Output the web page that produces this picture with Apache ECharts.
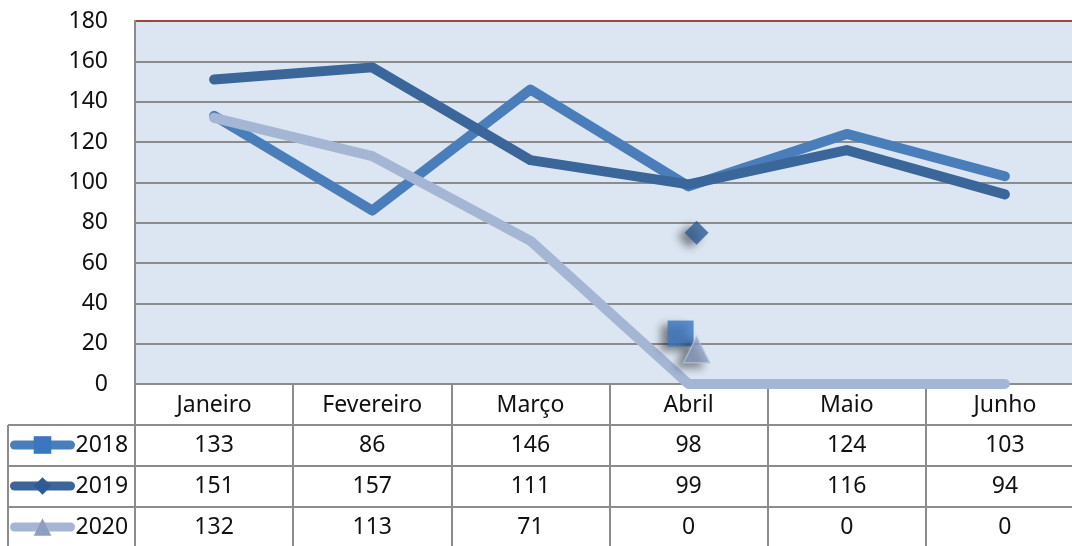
<!DOCTYPE html>
<html>
<head>
<meta charset="utf-8">
<script src="https://cdn.jsdelivr.net/npm/echarts@6/dist/echarts.min.js"></script>
<style>
  html, body { margin: 0; padding: 0; background: #fff; }
  #chart { width: 1072px; height: 546px; }
</style>
</head>
<body>
<div id="chart"></div>
<script>
const months = ["Janeiro", "Fevereiro", "Março", "Abril", "Maio", "Junho"];
const years = ["2018", "2019", "2020"];
const values2018 = [133, 86, 146, 98, 124, 103];
const values2019 = [151, 157, 111, 99, 116, 94];
const values2020 = [132, 113, 71, 0, 0, 0];
const yTicks = [0, 20, 40, 60, 80, 100, 120, 140, 160, 180];
// stray markers that float near "Abril" in the original picture
const strayCategory = "Abril";
const strayValues = [25, 75, 17];

const colors = ["#4A7EBB", "#3A6699", "#A5B6D4"];
const markerColors = ["#3B76C0", "#2D5B94", "#8C9FC2"];
const symbols = ["rect", "diamond", "triangle"];
const gridGray = "#8C8C8C";
const font = "Noto Sans, sans-serif";
const rowH = 41;

const chart = echarts.init(document.getElementById("chart"));

const lineSeries = [values2018, values2019, values2020].map((vals, i) => ({
  name: years[i],
  type: "line",
  data: vals,
  symbol: symbols[i],
  symbolSize: 14,
  showSymbol: false,
  itemStyle: { color: markerColors[i] },
  lineStyle: { color: colors[i], width: 10, cap: "round", join: "round" },
  z: 2 + i,
  animation: false,
}));

const strayOffsets = [[-8, 0], [8, 0], [8, 0]];
const straySeries = {
  name: "stray",
  type: "scatter",
  z: 10,
  animation: false,
  data: strayValues.map((v, i) => ({
    value: [strayCategory, v],
    symbol: symbols[i],
    symbolSize: i === 1 ? 24 : 26,
    symbolOffset: strayOffsets[i],
    itemStyle: {
      color: markerColors[i],
      borderColor: i === 2 ? "#AFC0DC" : markerColors[i],
      borderWidth: i === 2 ? 1.5 : 0,
      shadowColor: "rgba(0,0,0,0.55)",
      shadowBlur: 8,
      shadowOffsetX: -7,
      shadowOffsetY: 4,
    },
  })),
};

// table rows as extra category axes below the plot
const rowAxes = [values2018, values2019, values2020].map((vals, i) => ({
  type: "category",
  data: months,
  gridIndex: 0,
  position: "bottom",
  offset: rowH * (i + 1),
  axisLine: { show: false },
  axisTick: { show: false },
  axisLabel: {
    interval: 0,
    margin: 20,
    verticalAlign: "middle",
    fontSize: 23,
    fontFamily: font,
    color: "#111",
    formatter: (v, idx) => String(vals[idx]),
  },
}));

const splitColors = yTicks.map((t, i) => (i === yTicks.length - 1 ? "#A0413F" : gridGray));

const tableLines = [425, 466, 507].map((y) => ({
  type: "line",
  shape: { x1: 8, y1: y, x2: 1072, y2: y },
  style: { stroke: gridGray, lineWidth: 2 },
  z: 5,
}));
tableLines.push({
  type: "line",
  shape: { x1: 8, y1: 425, x2: 8, y2: 546 },
  style: { stroke: gridGray, lineWidth: 2 },
  z: 5,
});

const option = {
  animation: false,
  backgroundColor: "#fff",
  grid: {
    left: 135,
    top: 21,
    width: 949,
    height: 363,
    outerBoundsMode: "none",
    containLabel: false,
    show: true,
    backgroundColor: "#DCE6F2",
    borderWidth: 0,
  },
  legend: {
    data: years,
    orient: "vertical",
    left: 10,
    top: 432,
    padding: 0,
    itemWidth: 56,
    itemHeight: 22,
    itemGap: 15,
    lineStyle: { width: 9, cap: "round" },
    textStyle: { fontSize: 23, fontFamily: font, color: "#111", lineHeight: 26 },
    selectedMode: false,
  },
  xAxis: [
    {
      type: "category",
      data: months,
      boundaryGap: true,
      axisLine: { show: true, lineStyle: { color: gridGray, width: 2 } },
      axisTick: {
        show: true,
        inside: false,
        length: 162,
        lineStyle: { color: gridGray, width: 2 },
      },
      axisLabel: {
        interval: 0,
        margin: 21,
        verticalAlign: "middle",
        fontSize: 23,
        fontFamily: font,
        color: "#111",
      },
    },
    ...rowAxes,
  ],
  yAxis: {
    type: "value",
    min: 0,
    max: 180,
    interval: 20,
    axisLine: { show: true, lineStyle: { color: gridGray, width: 2 } },
    axisTick: { show: false },
    axisLabel: {
      margin: 27,
      fontSize: 23,
      fontFamily: font,
      color: "#111",
    },
    splitLine: { show: true, lineStyle: { color: splitColors, width: 2 } },
  },
  graphic: tableLines,
  series: [...lineSeries, straySeries],
};

chart.setOption(option);
</script>
</body>
</html>
